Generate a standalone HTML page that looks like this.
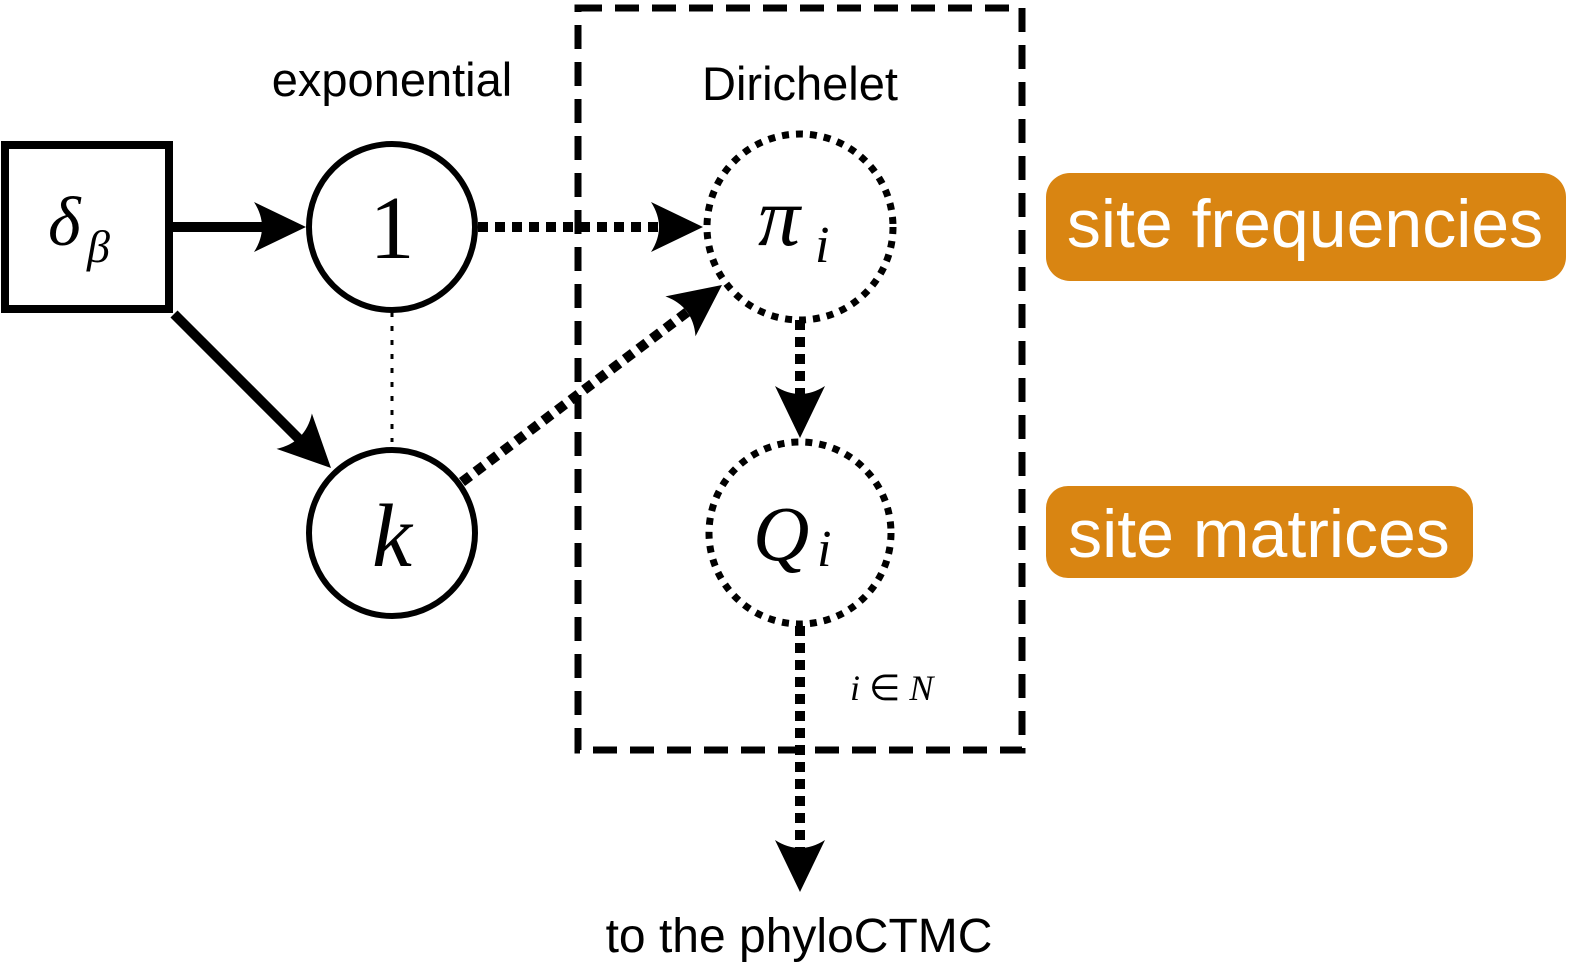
<!DOCTYPE html>
<html><head><meta charset="utf-8"><style>
html,body{margin:0;padding:0;background:#fff;}
svg{display:block;}
.t{font-family:"Liberation Sans",sans-serif;fill:#000;}
.m{font-family:"Liberation Serif",serif;font-style:italic;fill:#000;}
</style></head><body>
<svg width="1572" height="966" viewBox="0 0 1572 966">
<defs>
<path id="ah" d="M0,0 L-52,-25 Q-36,0 -52,25 Z"/>
</defs>
<rect x="578" y="8" width="444" height="742" fill="none" stroke="#000" stroke-width="7" stroke-dasharray="24,13"/>
<text class="m" x="850" y="700" font-size="36">i <tspan font-style="normal">∈</tspan> N</text>
<g>
<line x1="171" y1="227" x2="270" y2="227" stroke="#000" stroke-width="10"/>
<use href="#ah" transform="translate(306,227)"/>
</g>
<g>
<line x1="174" y1="314" x2="300" y2="440" stroke="#000" stroke-width="10"/>
<use href="#ah" transform="translate(331,468) rotate(45)"/>
</g>
<line x1="392" y1="312" x2="392" y2="442" stroke="#000" stroke-width="3" stroke-dasharray="5,9"/>
<g>
<line x1="478" y1="227" x2="660" y2="227" stroke="#000" stroke-width="10" stroke-dasharray="10,7"/>
<use href="#ah" transform="translate(703,227)"/>
</g>
<g>
<line x1="462" y1="482" x2="690" y2="310" stroke="#000" stroke-width="10" stroke-dasharray="10,7"/>
<use href="#ah" transform="translate(722,285) rotate(-37)"/>
</g>
<g>
<line x1="800" y1="320" x2="800" y2="400" stroke="#000" stroke-width="10" stroke-dasharray="10,7"/>
<use href="#ah" transform="translate(800,438) rotate(90)"/>
</g>
<g>
<line x1="800" y1="626" x2="800" y2="850" stroke="#000" stroke-width="10" stroke-dasharray="10,7"/>
<use href="#ah" transform="translate(800,892) rotate(90)"/>
</g>
<g>
<rect x="5" y="145" width="164" height="164" fill="#fff" stroke="#000" stroke-width="8"/>
<text class="m" x="48" y="245" font-size="70">δ</text><text class="m" x="87" y="262" font-size="46">β</text>
</g>
<g>
<circle cx="392" cy="227" r="83" fill="#fff" stroke="#000" stroke-width="6"/>
<text x="392" y="258" font-size="90" text-anchor="middle" font-family="Liberation Serif,serif">1</text>
</g>
<g>
<circle cx="392" cy="533" r="83" fill="#fff" stroke="#000" stroke-width="6"/>
<text class="m" x="392" y="566" font-size="90" text-anchor="middle">k</text>
</g>
<g>
<circle cx="800" cy="227" r="93" fill="#fff" stroke="#000" stroke-width="7" stroke-dasharray="7,7"/>
<text class="m" x="758" y="245" font-size="84">π</text><text class="m" x="815" y="262" font-size="52">i</text>
</g>
<g>
<circle cx="800" cy="533" r="91" fill="#fff" stroke="#000" stroke-width="7" stroke-dasharray="7,7"/>
<text class="m" x="753" y="560" font-size="78">Q</text><text class="m" x="817" y="566" font-size="52">i</text>
</g>
<text class="t" x="392" y="96" font-size="47" text-anchor="middle">exponential</text>
<text class="t" x="800" y="100" font-size="47" text-anchor="middle">Dirichelet</text>
<text class="t" x="799" y="952" font-size="48" text-anchor="middle">to the phyloCTMC</text>
<g>
<rect x="1046" y="173" width="520" height="108" rx="24" fill="#D98512"/>
<text class="t" x="1305" y="247" font-size="68" text-anchor="middle" style="fill:#fff">site frequencies</text>
</g>
<g>
<rect x="1046" y="486" width="427" height="92" rx="22" fill="#D98512"/>
<text class="t" x="1259" y="557" font-size="68" text-anchor="middle" style="fill:#fff">site matrices</text>
</g>
</svg>
</body></html>
